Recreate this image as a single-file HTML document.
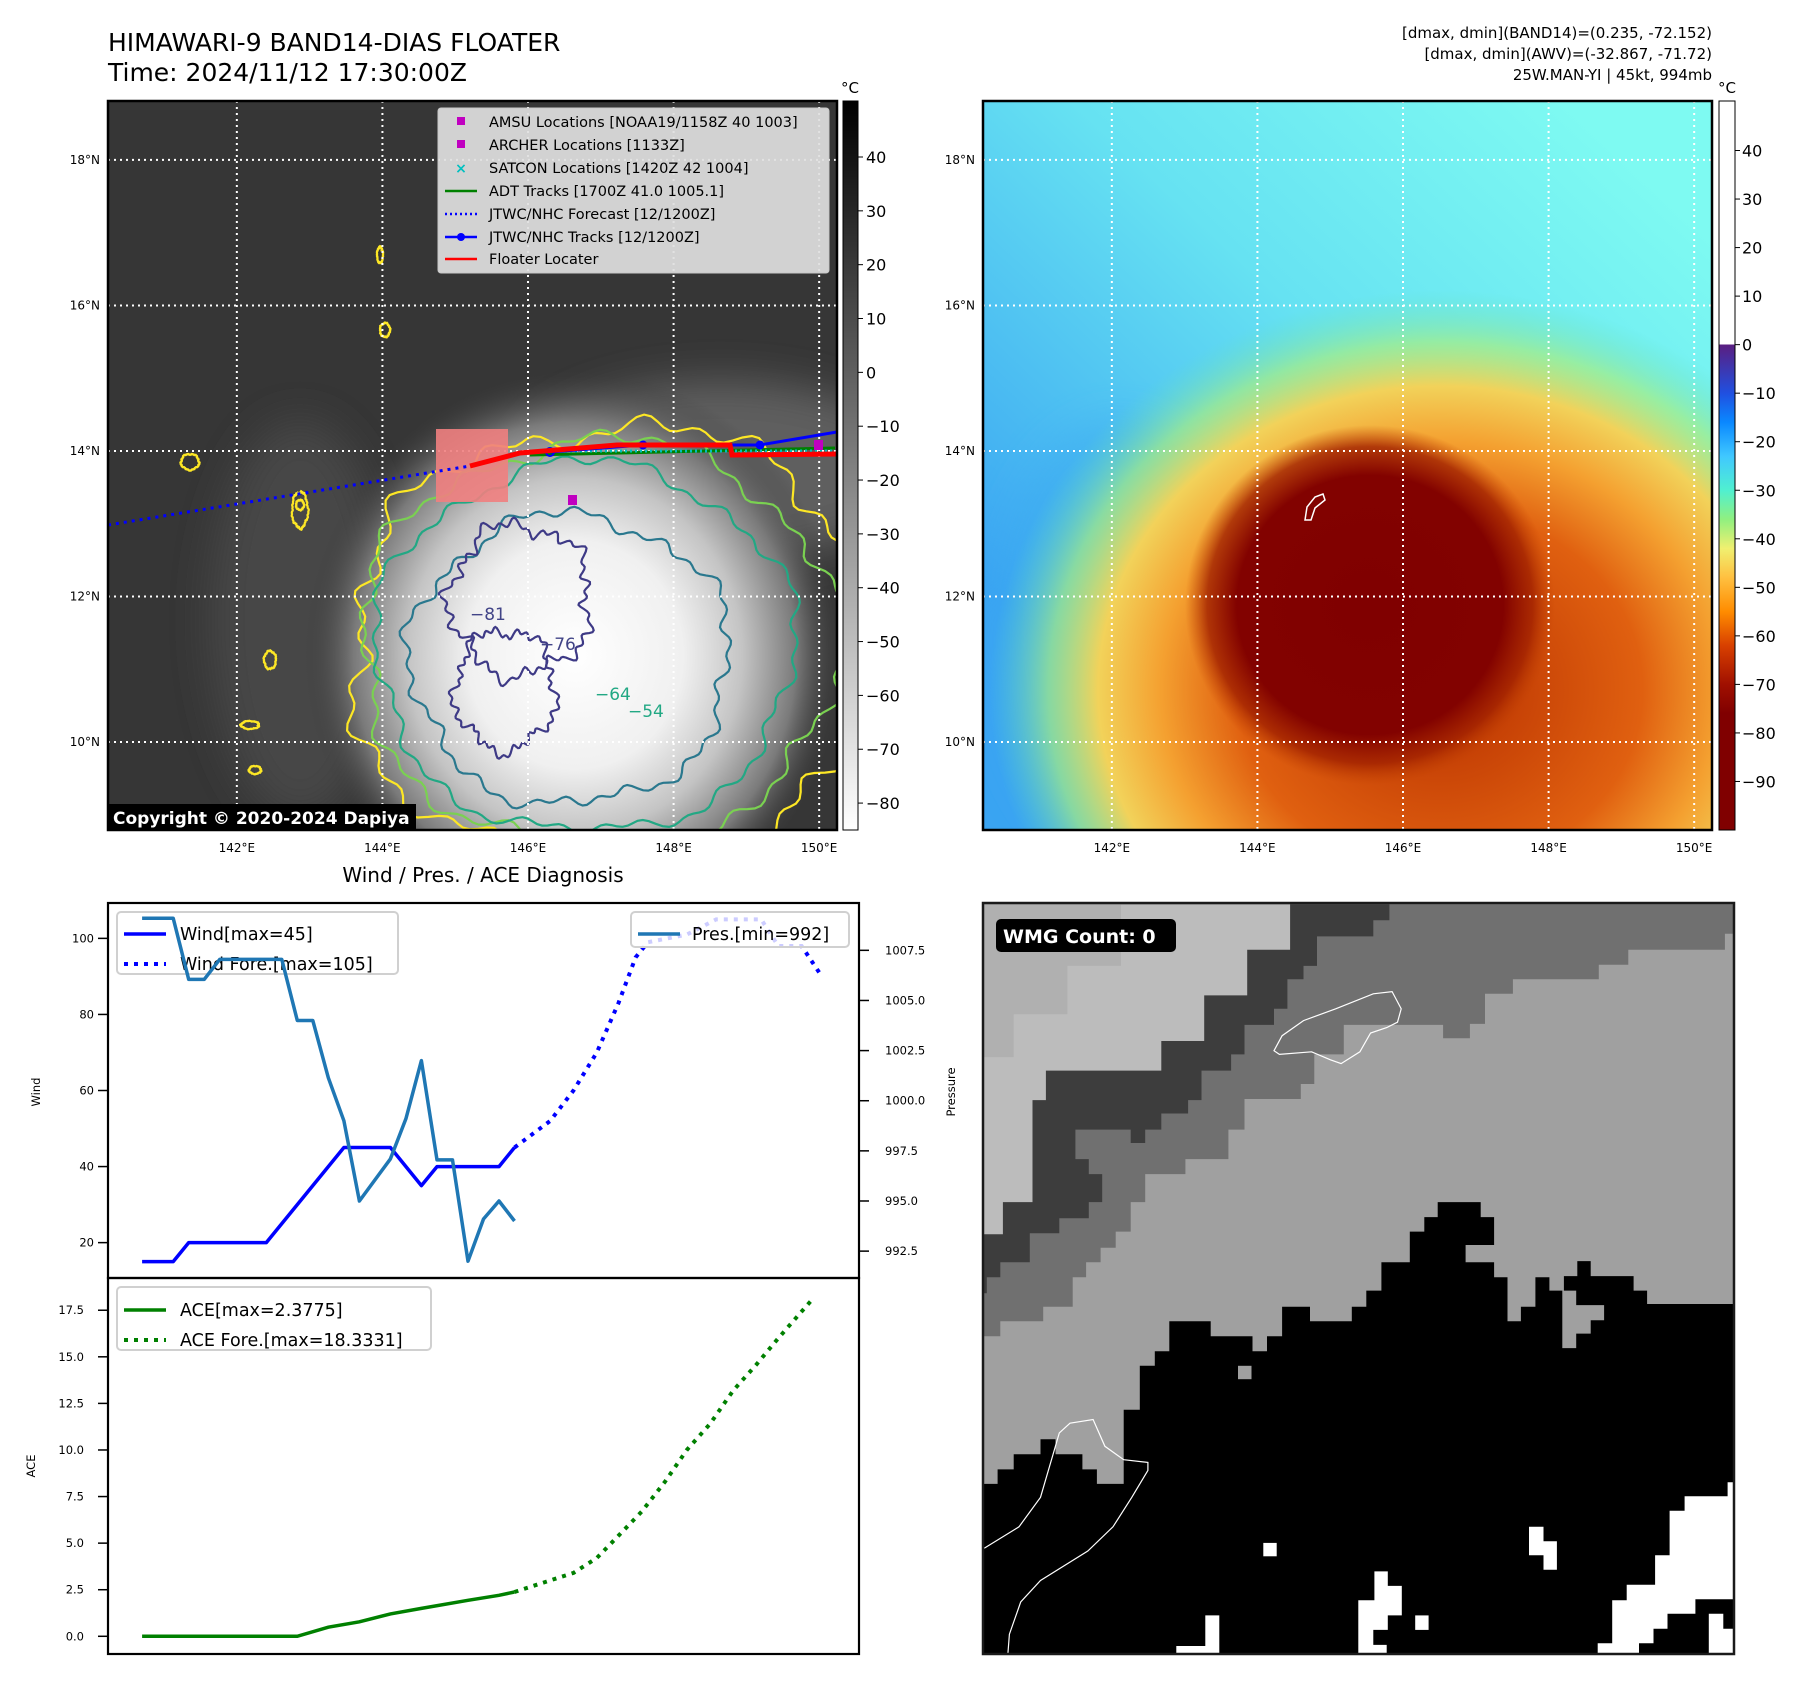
<!DOCTYPE html>
<html><head><meta charset="utf-8">
<style>
html,body{margin:0;padding:0;background:#fff;}
svg{display:block;font-family:"DejaVu Sans","Liberation Sans",sans-serif;}
</style></head>
<body>
<svg id="fig" width="1801" height="1690" viewBox="0 0 1801 1690" xmlns="http://www.w3.org/2000/svg">
<defs>
  <clipPath id="clipM1"><rect x="108" y="101" width="729" height="729"/></clipPath>
  <clipPath id="clipM2"><rect x="983" y="101" width="729" height="729"/></clipPath>
  <clipPath id="clipW"><rect x="108" y="903" width="751" height="375"/></clipPath>
  <clipPath id="clipA"><rect x="108" y="1278" width="751" height="376"/></clipPath>
  <clipPath id="clipBR"><rect x="983" y="903" width="751" height="751"/></clipPath>
  <radialGradient id="g1blob" cx="0.5" cy="0.5" r="0.5">
    <stop offset="0" stop-color="#ffffff"/>
    <stop offset="0.4" stop-color="#f0f0f0"/>
    <stop offset="0.62" stop-color="#c4c4c4"/>
    <stop offset="0.82" stop-color="#7a7a7a"/>
    <stop offset="1" stop-color="#3a3a3a" stop-opacity="0"/>
  </radialGradient>
  <radialGradient id="g2outer" cx="0.5" cy="0.5" r="0.5">
    <stop offset="0" stop-color="#b83000"/>
    <stop offset="0.45" stop-color="#e06010"/>
    <stop offset="0.62" stop-color="#f4a030"/>
    <stop offset="0.76" stop-color="#f2d25a"/>
    <stop offset="0.87" stop-color="#a8ee80" stop-opacity="0.7"/>
    <stop offset="1" stop-color="#60e0c0" stop-opacity="0"/>
  </radialGradient>
  <radialGradient id="g2core" cx="0.5" cy="0.5" r="0.5">
    <stop offset="0" stop-color="#800000"/>
    <stop offset="0.72" stop-color="#820200"/>
    <stop offset="0.88" stop-color="#a02000" stop-opacity="0.8"/>
    <stop offset="1" stop-color="#c04000" stop-opacity="0"/>
  </radialGradient>
  <linearGradient id="g2bg" x1="0.8" y1="0" x2="0.1" y2="0.75">
    <stop offset="0" stop-color="#7efaf2"/>
    <stop offset="0.45" stop-color="#66e2f2"/>
    <stop offset="1" stop-color="#3aa4f2"/>
  </linearGradient>
  <linearGradient id="cb1" x1="0" y1="0" x2="0" y2="1">
    <stop offset="0" stop-color="#000000"/>
    <stop offset="1" stop-color="#ffffff"/>
  </linearGradient>
  <linearGradient id="cb2" x1="0" y1="0" x2="0" y2="1" gradientUnits="userSpaceOnUse">
  </linearGradient>
  <filter id="blur20" x="-60%" y="-60%" width="220%" height="220%"><feGaussianBlur stdDeviation="20"/></filter>
</defs>

<text x="108" y="51" font-size="25" fill="#000">HIMAWARI-9 BAND14-DIAS FLOATER</text>
<text x="108" y="81" font-size="25" fill="#000">Time: 2024/11/12 17:30:00Z</text>
<g font-size="15" text-anchor="end" fill="#000">
  <text x="1712" y="38">[dmax, dmin](BAND14)=(0.235, -72.152)</text>
  <text x="1712" y="59">[dmax, dmin](AWV)=(-32.867, -71.72)</text>
  <text x="1712" y="80">25W.MAN-YI | 45kt, 994mb</text>
</g>

<!-- MAP 1 -->
<g id="map1">
  <g clip-path="url(#clipM1)">
    <rect x="108" y="101" width="729" height="729" fill="#363636"/>
    <ellipse cx="720" cy="470" rx="200" ry="90" fill="#5e5e5e" filter="url(#blur20)"/>
    <ellipse cx="300" cy="620" rx="90" ry="200" fill="#474747" filter="url(#blur20)"/>
    <ellipse cx="575" cy="655" rx="270" ry="285" fill="url(#g1blob)"/>
    <g id="m1contours" fill="none" stroke-width="2.2"></g>
    <g id="m1grid"></g>
    <rect x="436" y="429" width="72" height="73" fill="#f08080" opacity="0.9"/>
    <path d="M108,525 L470,466" stroke="#0000ff" stroke-width="3" stroke-dasharray="3 5" fill="none"/>
    <path d="M530,455 L835,448" stroke="#008000" stroke-width="3" fill="none"/>
    <path d="M530,451 L835,451" stroke="#00c0c0" stroke-width="3" stroke-dasharray="2 3" fill="none"/>
    <path d="M550,452 L643,445 L760,445 L837,432" stroke="#0000ff" stroke-width="3" fill="none"/>
    <circle cx="643" cy="445" r="4.5" fill="#0000ff"/><circle cx="760" cy="445" r="4.5" fill="#0000ff"/>
    <circle cx="550" cy="452" r="4" fill="none" stroke="#0000ff" stroke-width="2"/>
    <path d="M470,466 L520,453 L617,445 L730,445 L732,455 L837,454" stroke="#ff0000" stroke-width="5" fill="none"/>
    <rect x="568" y="495" width="9" height="10" fill="#c000c0"/>
    <rect x="814" y="440" width="9" height="10" fill="#c000c0"/>
    <g id="m1labels" font-size="17"></g>
  </g>
  <rect x="108" y="101" width="729" height="729" fill="none" stroke="#000" stroke-width="2.5"/>
  <g>
    <rect x="438" y="108" width="391" height="165" rx="3" fill="#e0e0e0" fill-opacity="0.92" stroke="#c8c8c8"/>
    <g font-size="14.5" fill="#000">
      <rect x="457" y="117" width="8" height="8" fill="#c000c0"/><text x="489" y="127">AMSU Locations [NOAA19/1158Z 40 1003]</text>
      <rect x="457" y="140" width="8" height="8" fill="#c000c0"/><text x="489" y="150">ARCHER Locations [1133Z]</text>
      <text x="461" y="173" text-anchor="middle" fill="#00c0c0" font-weight="bold" font-size="14">×</text><text x="489" y="173">SATCON Locations [1420Z 42 1004]</text>
      <line x1="445" y1="191" x2="477" y2="191" stroke="#008000" stroke-width="2.5"/><text x="489" y="196">ADT Tracks [1700Z 41.0 1005.1]</text>
      <line x1="445" y1="214" x2="477" y2="214" stroke="#0000ff" stroke-width="2.5" stroke-dasharray="2 3"/><text x="489" y="219">JTWC/NHC Forecast [12/1200Z]</text>
      <line x1="445" y1="237" x2="477" y2="237" stroke="#0000ff" stroke-width="2.5"/><circle cx="461" cy="237" r="4" fill="#0000ff"/><text x="489" y="242">JTWC/NHC Tracks [12/1200Z]</text>
      <line x1="445" y1="259" x2="477" y2="259" stroke="#ff0000" stroke-width="2.5"/><text x="489" y="264">Floater Locater</text>
    </g>
  </g>
  <g>
    <rect x="108" y="804" width="308" height="26" fill="#000"/>
    <text x="113" y="824" font-size="17" font-weight="bold" fill="#fff">Copyright © 2020-2024 Dapiya</text>
  </g>
</g>
<g id="m1axes" font-size="12" fill="#000"></g>

<g>
  <text x="850" y="93" font-size="15" text-anchor="middle">°C</text>
  <rect x="843" y="101" width="15" height="729" fill="url(#cb1)" stroke="#000" stroke-width="1"/>
  <g id="cb1ticks" font-size="16"></g>
</g>

<!-- MAP 2 -->
<g id="map2">
  <g clip-path="url(#clipM2)">
    <rect x="983" y="101" width="729" height="729" fill="url(#g2bg)"/>
    <ellipse cx="1120" cy="640" rx="130" ry="220" fill="#3aa8f0" opacity="0.45" filter="url(#blur20)"/>
    <ellipse cx="1440" cy="690" rx="450" ry="400" fill="url(#g2outer)"/>
    <ellipse cx="1370" cy="605" rx="185" ry="180" fill="url(#g2core)"/>
    <g id="m2grid"></g>
    <path d="M1307,507 l8,-10 l8,-3 l2,6 l-10,8 l-4,12 l-6,0z" fill="none" stroke="#fff" stroke-width="1.5"/>
  </g>
  <rect x="983" y="101" width="729" height="729" fill="none" stroke="#000" stroke-width="2.5"/>
</g>
<g id="m2axes" font-size="12" fill="#000"></g>

<g>
  <text x="1727" y="93" font-size="15" text-anchor="middle">°C</text>
  <rect id="cb2rect" x="1719" y="101" width="16" height="729" fill="url(#cb2)" stroke="#000" stroke-width="1"/>
  <g id="cb2ticks" font-size="16"></g>
</g>

<text x="483" y="882" font-size="20" text-anchor="middle">Wind / Pres. / ACE Diagnosis</text>
<g id="windPanel">
  <rect x="108" y="903" width="751" height="375" fill="#fff"/>
  <g id="windMarks" clip-path="url(#clipW)"></g>
  <g>
    <rect x="117" y="912" width="281" height="62" rx="4" fill="#fff" fill-opacity="0.8" stroke="#d0d0d0" stroke-width="2"/>
    <line x1="124" y1="934" x2="166" y2="934" stroke="#0000ff" stroke-width="3.5"/>
    <text x="180" y="940" font-size="17.5">Wind[max=45]</text>
    <line x1="124" y1="964" x2="166" y2="964" stroke="#0000ff" stroke-width="4" stroke-dasharray="4 6"/>
    <text x="180" y="970" font-size="17.5">Wind Fore.[max=105]</text>
  </g>
  <g id="presMarks" clip-path="url(#clipW)"></g>
  <g>
    <rect x="631" y="912" width="218" height="35" rx="4" fill="#fff" fill-opacity="0.8" stroke="#d0d0d0" stroke-width="2"/>
    <line x1="638" y1="934" x2="680" y2="934" stroke="#1f77b4" stroke-width="3.5"/>
    <text x="692" y="940" font-size="17.5">Pres.[min=992]</text>
  </g>
  <g id="windAxes" font-size="11.5"></g>
  <rect x="108" y="903" width="751" height="375" fill="none" stroke="#000" stroke-width="2.2"/>
</g>
<g id="acePanel">
  <g id="aceMarks" clip-path="url(#clipA)"></g>
  <g id="aceAxes" font-size="11.5"></g>
  <rect x="108" y="1278" width="751" height="376" fill="none" stroke="#000" stroke-width="2.2"/>
  <g>
    <rect x="117" y="1287" width="314" height="63" rx="4" fill="#fff" fill-opacity="0.8" stroke="#d0d0d0" stroke-width="2"/>
    <line x1="124" y1="1310" x2="166" y2="1310" stroke="#008000" stroke-width="3.5"/>
    <text x="180" y="1316" font-size="17.5">ACE[max=2.3775]</text>
    <line x1="124" y1="1340" x2="166" y2="1340" stroke="#008000" stroke-width="4" stroke-dasharray="4 6"/>
    <text x="180" y="1346" font-size="17.5">ACE Fore.[max=18.3331]</text>
  </g>
</g>
<text transform="translate(40,1092) rotate(-90)" font-size="11.5" text-anchor="middle">Wind</text>
<text transform="translate(955,1092) rotate(-90)" font-size="11.5" text-anchor="middle">Pressure</text>
<text transform="translate(35,1466) rotate(-90)" font-size="11.5" text-anchor="middle">ACE</text>

<g id="brPanel">
  <g clip-path="url(#clipBR)" id="brShapes"></g>
  <rect x="983" y="903" width="751" height="751" fill="none" stroke="#1a1a1a" stroke-width="2.5"/>
  <rect x="996" y="919" width="180" height="33" rx="5" fill="#000"/>
  <text x="1003" y="943" font-size="19" font-weight="bold" fill="#fff">WMG Count: 0</text>
</g>

<script>
const windObsX = [0, 2, 3, 8, 13, 16, 18, 19, 23, 24];
const windObs = [15, 15, 20, 20, 45, 45, 35, 40, 40, 45];
const windForeX = [24, 26.3, 27.8, 29.3, 30.7, 31.8, 32.6, 35.1, 37, 39.9, 41, 42.5, 43.8];
const windFore = [45, 52, 60, 70, 83, 95, 99, 101, 105, 105, 98, 98, 90];
const presX = [0, 2, 3, 4, 5, 9, 10, 11, 12, 13, 14, 16, 17, 18, 19, 20, 21, 22, 23, 24];
const pres = [1009.1, 1009.1, 1006.05, 1006.05, 1007.05, 1007.05, 1004.0, 1004.0, 1001.15, 999.0, 995.0, 997.1, 999.1, 1002.0, 997.05, 997.05, 992.0, 994.1, 995.0, 994.0];
const aceX = [0, 10, 12, 14, 16, 18, 21, 23, 24];
const ace = [0, 0, 0.49, 0.78, 1.2, 1.5, 1.93, 2.2, 2.38];
const aceForeX = [24, 26.3, 27.8, 29.3, 30.7, 32.2, 33.7, 35.1, 36.6, 38.1, 39.6, 41.0, 43.2];
const aceFore = [2.38, 3.0, 3.4, 4.2, 5.4, 6.7, 8.3, 10.0, 11.4, 13.2, 14.6, 16.0, 18.1];
const windTicks = [20, 40, 60, 80, 100];
const presTicks = [992.5, 995.0, 997.5, 1000.0, 1002.5, 1005.0, 1007.5];
const aceTicks = [0.0, 2.5, 5.0, 7.5, 10.0, 12.5, 15.0, 17.5];
const lonTicks = [142, 144, 146, 148, 150];
const latTicks = [10, 12, 14, 16, 18];
const cb1Ticks = [40, 30, 20, 10, 0, -10, -20, -30, -40, -50, -60, -70, -80];
const cb2Ticks = [40, 30, 20, 10, 0, -10, -20, -30, -40, -50, -60, -70, -80, -90];

const NS = 'http://www.w3.org/2000/svg';
function mk(tag, attrs, parent) {
  const e = document.createElementNS(NS, tag);
  for (const k in attrs) e.setAttribute(k, attrs[k]);
  if (parent) parent.appendChild(e);
  return e;
}
const X0 = 108, X1 = 859, XMIN = -2.2, XMAX = 46.2;
const xS = v => X0 + (v - XMIN) / (XMAX - XMIN) * (X1 - X0);
const wY = v => 903 + (109.3 - v) / (109.3 - 10.7) * 375;
const pY = v => 903 + (1009.86 - v) / (1009.86 - 991.16) * 375;
const aY = v => 1278 + (19.23 - v) / (19.23 + 0.95) * 376;
function pathD(xs, ys, fy) { return xs.map((x, i) => (i ? 'L' : 'M') + xS(x).toFixed(1) + ',' + fy(ys[i]).toFixed(1)).join(''); }

const wm = document.getElementById('windMarks');
let p;
p = mk('path', {d: pathD(windForeX, windFore, wY), stroke: '#0000ff', 'stroke-width': 4, 'stroke-dasharray': '4 6', fill: 'none'}, wm);


p = mk('path', {d: pathD(windObsX, windObs, wY), stroke: '#0000ff', 'stroke-width': 3.5, fill: 'none', 'stroke-linejoin': 'round'}, wm);


const pm = document.getElementById('presMarks');
p = mk('path', {d: pathD(presX, pres, pY), stroke: '#1f77b4', 'stroke-width': 3.5, fill: 'none', 'stroke-linejoin': 'round'}, pm);



const am = document.getElementById('aceMarks');
p = mk('path', {d: pathD(aceForeX, aceFore, aY), stroke: '#008000', 'stroke-width': 4, 'stroke-dasharray': '4 6', fill: 'none'}, am);


p = mk('path', {d: pathD(aceX, ace, aY), stroke: '#008000', 'stroke-width': 3.5, fill: 'none'}, am);



const wa = document.getElementById('windAxes');
windTicks.forEach(v => {
  mk('line', {x1: 98, x2: 108, y1: wY(v), y2: wY(v), stroke: '#000', 'stroke-width': 1.5}, wa);
  const t = mk('text', {x: 94, y: wY(v) + 4, 'text-anchor': 'end'}, wa); t.textContent = v;
  
  
});
presTicks.forEach(v => {
  mk('line', {x1: 859, x2: 869, y1: pY(v), y2: pY(v), stroke: '#000', 'stroke-width': 1.5}, wa);
  const t = mk('text', {x: 885, y: pY(v) + 4}, wa); t.textContent = v.toFixed(1);
  
  
});
const aa = document.getElementById('aceAxes');
aceTicks.forEach(v => {
  mk('line', {x1: 98, x2: 108, y1: aY(v), y2: aY(v), stroke: '#000', 'stroke-width': 1.5}, aa);
  const t = mk('text', {x: 84, y: aY(v) + 4, 'text-anchor': 'end'}, aa); t.textContent = v.toFixed(1);
  
  
});

const LON0 = 140.23, LON1 = 150.245, LAT0 = 8.79, LAT1 = 18.81;
const mx = (lon, off) => off + (lon - LON0) / (LON1 - LON0) * 729;
const my = lat => 101 + (LAT1 - lat) / (LAT1 - LAT0) * 729;
function grid(gid, off) {
  const g = document.getElementById(gid);
  lonTicks.forEach(l => mk('line', {x1: mx(l, off), x2: mx(l, off), y1: 101, y2: 830, stroke: '#fff', 'stroke-width': 2, 'stroke-dasharray': '2 4'}, g));
  latTicks.forEach(l => mk('line', {x1: off, x2: off + 729, y1: my(l), y2: my(l), stroke: '#fff', 'stroke-width': 2, 'stroke-dasharray': '2 4'}, g));
}
function axes(gid, off) {
  const g = document.getElementById(gid);
  lonTicks.forEach(l => { const t = mk('text', {x: mx(l, off), y: 852, 'text-anchor': 'middle'}, g); t.textContent = l + '°E';
      });
  latTicks.forEach(l => { const t = mk('text', {x: off - 8, y: my(l) + 4, 'text-anchor': 'end'}, g); t.textContent = l + '°N';
      });
}
grid('m1grid', 108); grid('m2grid', 983); axes('m1axes', 108); axes('m2axes', 983);

function blob(cx, cy, rx, ry, seed, amp) {
  let d = '';
  for (let i = 0; i <= 240; i++) {
    const a = i / 240 * Math.PI * 2;
    const r = 1 + amp * (0.45 * Math.sin(5 * a + seed) + 0.3 * Math.sin(13 * a + 2 * seed) + 0.25 * Math.sin(31 * a + 3 * seed));
    d += (i ? 'L' : 'M') + (cx + rx * r * Math.cos(a)).toFixed(1) + ',' + (cy + ry * r * Math.sin(a)).toFixed(1);
  }
  return d + 'Z';
}
const mc = document.getElementById('m1contours');
[[615, 650, 265, 225, 1, 0.1, '#fde725'], [600, 645, 240, 205, 2, 0.08, '#7ad151'], [585, 648, 210, 185, 3, 0.07, '#22a884'],
 [570, 660, 160, 145, 4, 0.09, '#2a788e'], [520, 600, 70, 75, 5, 0.18, '#3e3a86'], [505, 690, 50, 60, 6, 0.18, '#3e3a86']]
  .forEach(c => mk('path', {d: blob(c[0], c[1], c[2], c[3], c[4], c[5]), stroke: c[6]}, mc));
[[190, 462, 9, 8], [300, 505, 4, 5], [385, 330, 5, 7], [380, 255, 3, 8], [270, 660, 6, 9], [250, 725, 9, 4], [255, 770, 6, 4], [300, 510, 8, 18]].forEach((c, i) =>
  mk('path', {d: blob(c[0], c[1], c[2], c[3], i, 0.12), stroke: '#fde725'}, mc));
const ml = document.getElementById('m1labels');
[['−64', 595, 700, '#22a884'], ['−54', 628, 717, '#22a884'], ['−76', 540, 650, '#414487'], ['−81', 470, 620, '#414487']].forEach(l => { const t = mk('text', {x: l[1], y: l[2], fill: l[3]}, ml); t.textContent = l[0]; });

const cb1 = document.getElementById('cb1ticks');
const c1y = v => 101 + (50.4 - v) / (50.4 + 85) * 729;
cb1Ticks.forEach(v => { mk('line', {x1: 858, x2: 863, y1: c1y(v), y2: c1y(v), stroke: '#000'}, cb1);
  const t = mk('text', {x: 866, y: c1y(v) + 6}, cb1); t.textContent = v < 0 ? '−' + (-v) : v; });
const cb2 = document.getElementById('cb2ticks');
const c2y = v => 101 + (50.2 - v) / (50.2 + 100) * 729;
cb2Ticks.forEach(v => { mk('line', {x1: 1735, x2: 1740, y1: c2y(v), y2: c2y(v), stroke: '#000'}, cb2);
  const t = mk('text', {x: 1742, y: c2y(v) + 6}, cb2); t.textContent = v < 0 ? '−' + (-v) : v; });
const g2 = document.getElementById('cb2');
g2.setAttribute('x1', 0); g2.setAttribute('y1', 101); g2.setAttribute('x2', 0); g2.setAttribute('y2', 830);
[[50.2, '#ffffff'], [0.01, '#ffffff'], [0, '#5a1e80'], [-10, '#2050e0'], [-16, '#0a88ff'], [-23, '#40c8ff'], [-30, '#50f0d0'], [-36, '#90f080'],
 [-42, '#f0f070'], [-48, '#ffc040'], [-55, '#ff8c00'], [-62, '#d84000'], [-70, '#a01000'], [-76, '#800000'], [-100, '#800000']]
  .forEach(s => mk('stop', {offset: ((50.2 - s[0]) / 150.2).toFixed(4), 'stop-color': s[1]}, g2));

const bx = v => 960 + v / 1.863, by = v => 880 + v / 1.863;
function poly(pts, fill, parent, extra) {
  const s = []; for (let i = 0; i < pts.length; i += 2) s.push(bx(pts[i]).toFixed(1) + ',' + by(pts[i + 1]).toFixed(1));
  return mk('polygon', Object.assign({points: s.join(' '), fill: fill}, extra || {}), parent);
}
const br = document.getElementById('brShapes');
mk('rect', {x: 983, y: 903, width: 751, height: 751, fill: '#a0a0a0'}, br);
poly([43,45,1442,45,1442,100,1425,100,1425,130,1245,130,1245,158,1190,158,1190,185,1030,185,1030,212,978,212,978,268,950,268,950,295,900,295,900,270,715,270,715,325,660,325,660,380,635,380,635,408,530,408,530,465,500,465,500,520,420,520,420,548,345,548,345,600,318,600,318,655,290,655,290,685,262,685,262,712,235,712,235,740,210,740,210,795,155,795,155,822,75,822,75,850,43,850], '#707070', br);
poly([43,45,800,45,800,75,770,75,770,105,665,105,665,160,640,160,640,185,610,185,610,240,585,240,585,270,530,270,530,325,505,325,505,355,450,355,450,410,425,410,425,435,375,435,375,465,345,465,345,490,318,490,318,465,215,465,215,520,240,520,240,548,265,548,265,600,240,600,240,630,185,630,185,658,130,658,130,712,75,712,75,740,50,740,50,770,43,770], '#3d3d3d', br);
poly([43,45,615,45,615,130,535,130,535,215,455,215,455,300,375,300,375,355,160,355,160,410,135,410,135,600,80,600,80,660,43,660], '#bcbcbc', br);
poly([43,45,300,45,300,160,200,160,200,250,100,250,100,330,43,330], '#b0b0b0', br);
poly([43,1125,70,1125,70,1098,100,1098,100,1070,150,1070,150,1042,178,1042,178,1070,228,1070,228,1098,255,1098,255,1125,305,1125,305,987,335,987,335,905,363,905,363,878,390,878,390,822,467,822,467,850,545,850,545,878,572,878,572,850,600,850,600,795,652,795,652,822,730,822,730,795,757,795,757,765,785,765,785,712,838,712,838,655,865,655,865,628,890,628,890,600,970,600,970,628,995,628,995,680,942,680,942,712,995,712,995,740,1020,740,1020,822,1045,822,1045,795,1072,795,1072,740,1098,740,1098,765,1122,765,1122,872,1148,872,1148,845,1175,845,1175,820,1200,820,1200,792,1148,792,1148,765,1125,765,1125,738,1150,738,1150,710,1175,710,1175,738,1255,738,1255,765,1280,765,1280,790,1442,790,1442,1497,43,1497], '#000000', br);
poly([518,905,543,905,543,930,518,930], '#a0a0a0', br);
const W = '#ffffff';
poly([1108,1497,1108,1480,1160,1480,1160,1450,1188,1450,1188,1422,1215,1422,1215,1342,1242,1342,1242,1313,1295,1313,1295,1258,1322,1258,1322,1175,1350,1175,1350,1148,1430,1148,1430,1122,1442,1122,1442,1340,1370,1340,1370,1367,1318,1367,1318,1395,1292,1395,1292,1422,1265,1422,1265,1475,1238,1475,1238,1497], W, br);
poly([1395,1367,1422,1367,1422,1395,1442,1395,1442,1497,1370,1497,1370,1475,1395,1475], W, br);
poly([403,1427,457,1427,457,1370,483,1370,483,1455,507,1455,507,1497,403,1497], W, br);
poly([533,1455,558,1455,558,1480,533,1480], W, br);
poly([565,1235,590,1235,590,1260,565,1260], W, br);
poly([848,1370,873,1370,873,1397,848,1397], W, br);
poly([1060,1205,1087,1205,1087,1232,1112,1232,1112,1285,1087,1285,1087,1258,1060,1258], W, br);
poly([772,1288,797,1288,797,1315,823,1315,823,1370,797,1370,797,1397,770,1397,770,1425,795,1425,795,1478,768,1478,768,1450,742,1450,742,1342,772,1342], W, br);
poly([585,318,600,290,640,262,700,240,770,212,805,208,822,240,815,265,795,275,765,285,745,320,710,342,690,335,655,320,595,325], 'none', br, {stroke: '#fff', 'stroke-width': 1.2});
const cl = [45,1245,110,1205,150,1150,185,1030,205,1012,248,1005,270,1055,305,1080,350,1085,350,1100,320,1150,285,1205,238,1250,150,1305,113,1345,92,1405,85,1497];
const cs = []; for (let i = 0; i < cl.length; i += 2) cs.push(bx(cl[i]).toFixed(1) + ',' + by(cl[i + 1]).toFixed(1));
mk('polyline', {points: cs.join(' '), fill: 'none', stroke: '#fff', 'stroke-width': 1.2}, br);
</script>
</svg>
</body></html>
